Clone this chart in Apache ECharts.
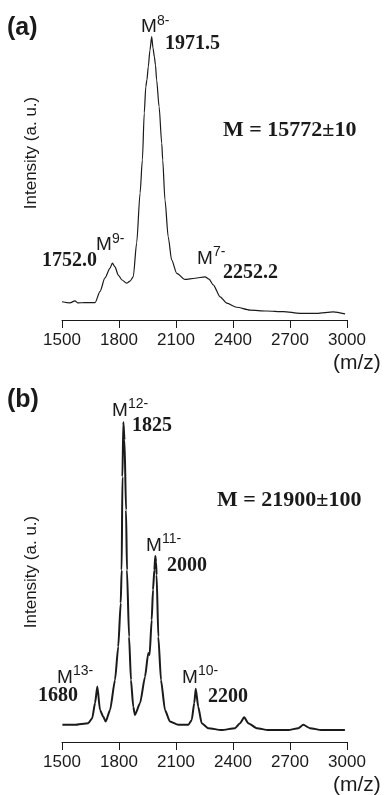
<!DOCTYPE html>
<html><head><meta charset="utf-8">
<script src="https://cdn.jsdelivr.net/npm/echarts@6/dist/echarts.min.js"></script>
<style>html,body{margin:0;padding:0;background:#fff}#c{width:391px;height:795px}</style>
</head><body><div id="c"></div>
<script>
// x-axis tick labels (m/z)
const mzTicks = [1500, 1800, 2100, 2400, 2700, 3000];
// Panel (a) spectrum: m/z and relative intensity (a.u.)
const mzA = [1500,1542,1568,1584,1621,1674,1700,1726,1753,1765,1779,1796,1816,1840,1858,1875,1893,1911,1923,1933,1941,1947,1954,1963,1972,1979,1986,1992,1998,2011,2025,2030,2042,2059,2077,2104,2147,2200,2253,2274,2296,2332,2367,2419,2489,2577,2665,2753,2841,2928,2990];
const intA = [6.3,5.9,6.6,5.9,6.0,6.0,9.8,14.5,17.9,19.6,18.3,15.5,13.8,12.7,13.4,14.9,26.6,43.8,55.2,71.4,80.4,82.8,87.3,93.1,97.7,93.8,90.8,87.9,82.8,73.6,60.9,55.2,41.4,28.7,20.7,16.1,14.0,14.4,14.9,14.1,12.1,8.0,5.8,4.4,3.4,3.1,2.9,2.3,2.3,2.8,2.1];
// Panel (b) spectrum
const mzB = [1502,1568,1638,1659,1674,1686,1700,1717,1730,1753,1779,1796,1809,1814,1818,1823,1829,1837,1842,1853,1863,1875,1884,1911,1937,1954,1961,1972,1979,1986,1991,1995,1998,2007,2021,2042,2068,2112,2165,2183,2196,2204,2217,2235,2270,2340,2411,2437,2459,2480,2525,2586,2691,2744,2770,2805,2867,2989];
const intB = [5.2,5.2,5.7,7.2,11.8,16.8,9.7,7.7,6.2,9.7,18.8,28.9,42.1,52.1,80.4,97.0,91.5,70.3,52.1,31.9,18.8,10.7,8.2,11.8,19.8,27.0,26.4,37.0,46.1,52.1,56.4,54.5,50.6,31.9,18.8,9.7,6.2,5.2,5.2,6.7,11.8,16.1,10.7,5.7,4.2,3.6,4.2,5.7,7.5,5.7,4.2,3.6,3.6,4.2,5.2,4.2,3.6,3.6];

const pairs = (xs, ys) => xs.map((x, i) => [x, ys[i]]);
const SANS = '"Liberation Sans", Arial, sans-serif';
const SERIF = '"Liberation Serif", "Times New Roman", serif';
const INK = '#1a1a1a';

function xAxis(gi) {
  return {
    type: 'value', gridIndex: gi, min: mzTicks[0], max: mzTicks[mzTicks.length - 1], interval: 300,
    axisLine: { show: true, lineStyle: { color: INK, width: 1 } },
    axisTick: { show: true, length: 8, lineStyle: { color: INK, width: 1 } },
    axisLabel: { color: INK, fontSize: 17, fontFamily: SANS, margin: 12, formatter: v => String(v) },
    splitLine: { show: false }
  };
}
function yAxis(gi) {
  return {
    type: 'value', gridIndex: gi, min: 0, max: 100, show: false
  };
}
function txt(x, y, text, font, extra) {
  return Object.assign({ type: 'text', x: x, y: y, style: { text: text, font: font, fill: INK, textVerticalAlign: 'middle' } }, extra || {});
}
function ylab(x, y) {
  return { type: 'text', x: x, y: y, rotation: Math.PI / 2,
    style: { text: 'Intensity (a. u.)', font: '17px ' + SANS, fill: INK, textAlign: 'center', textVerticalAlign: 'middle' } };
}
const mFont = '19px ' + SANS, supFont = '14px ' + SANS, numFont = 'bold 20px ' + SERIF, mFontB = 'bold 22px ' + SERIF;

const chart = echarts.init(document.getElementById('c'), null, { renderer: 'canvas' });
chart.setOption({
  animation: false,
  backgroundColor: '#fff',
  grid: [
    { left: 62, width: 285, top: 30, height: 290 },
    { left: 62, width: 285, top: 412, height: 330 }
  ],
  xAxis: [xAxis(0), xAxis(1)],
  yAxis: [yAxis(0), yAxis(1)],
  series: [
    { type: 'line', xAxisIndex: 0, yAxisIndex: 0, data: pairs(mzA, intA), showSymbol: false, smooth: 0.25, smoothMonotone: 'x', lineStyle: { color: INK, width: 1.2 } },
    { type: 'line', xAxisIndex: 1, yAxisIndex: 1, data: pairs(mzB, intB), showSymbol: false, smooth: 0.2, smoothMonotone: 'x', lineStyle: { color: INK, width: 2 } }
  ],
  graphic: [
    ylab(31, 153), ylab(31, 572),
    txt(7, 28, '(a)', 'bold 25px ' + SANS),
    txt(7, 400, '(b)', 'bold 25px ' + SANS),
    txt(333, 363, '(m/z)', '21px ' + SANS),
    txt(333, 785, '(m/z)', '21px ' + SANS),
    // panel a
    txt(141, 27, 'M', mFont), txt(157, 21, '8-', supFont),
    txt(165, 44, '1971.5', numFont),
    txt(223, 130, 'M = 15772\u00b110', mFontB),
    txt(96, 245, 'M', mFont), txt(112, 239, '9-', supFont),
    txt(42, 261, '1752.0', numFont),
    txt(197, 259, 'M', mFont), txt(213, 252, '7-', supFont),
    txt(223, 273, '2252.2', numFont),
    // panel b
    txt(112, 411, 'M', mFont), txt(128, 404, '12-', supFont),
    txt(132, 426, '1825', numFont),
    txt(217, 500, 'M = 21900\u00b1100', mFontB),
    txt(146, 546, 'M', mFont), txt(162, 539, '11-', supFont),
    txt(167, 566, '2000', numFont),
    txt(57, 678, 'M', mFont), txt(73, 671, '13-', supFont),
    txt(38, 696, '1680', numFont),
    txt(182, 678, 'M', mFont), txt(198, 671, '10-', supFont),
    txt(208, 697, '2200', numFont)
  ]
});
</script></body></html>
